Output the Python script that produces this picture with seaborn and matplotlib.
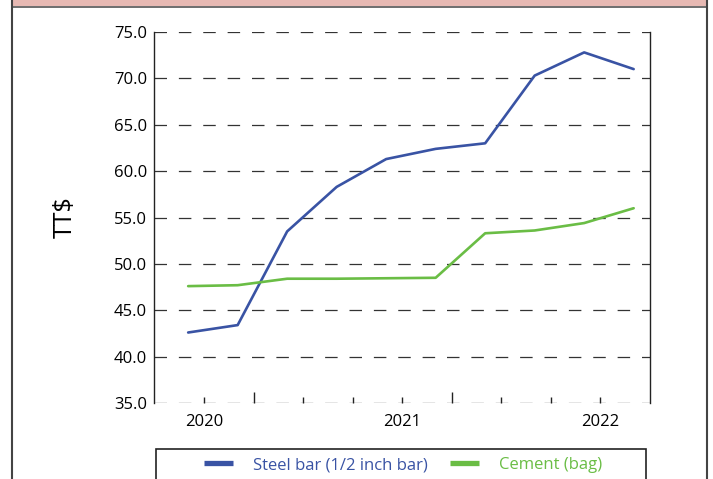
import numpy as np
import pandas as pd
import matplotlib
matplotlib.use("Agg")
import matplotlib.pyplot as plt
import seaborn as sns
from matplotlib.patches import Rectangle
from matplotlib.lines import Line2D

# quarterly prices, TT$
quarters = ["2019Q4", "2020Q1", "2020Q2", "2020Q3", "2020Q4",
            "2021Q1", "2021Q2", "2021Q3", "2021Q4", "2022Q1"]
steel = [42.6, 43.4, 53.5, 58.3, 61.3, 62.4, 63.0, 70.3, 72.8, 71.0]
cement = [47.6, 47.7, 48.4, 48.4, 48.45, 48.5, 53.3, 53.6, 54.4, 56.0]
series_names = ["Steel bar (1/2 inch bar)", "Cement (bag)"]
year_labels = ["2020", "", "", "", "2021", "", "", "", "2022"]

blue = "#3953a4"
green = "#6abd45"

df = pd.DataFrame({
	"pos": list(range(len(quarters))) * 2,
	"price": steel + cement,
	"series": [series_names[0]] * len(steel) + [series_names[1]] * len(cement),
})

sns.set_style("white")
plt.rcParams["font.family"] = ["Open Sans", "DejaVu Sans"]
plt.rcParams["text.color"] = "black"
plt.rcParams["xtick.color"] = "black"
plt.rcParams["ytick.color"] = "black"
plt.rcParams["axes.labelcolor"] = "black"

fig = plt.figure(figsize=(7.13, 4.79), dpi=100)
ax = fig.add_axes([154/713, 1-403/479, 496/713, 371/479])

sns.lineplot(data=df, x="pos", y="price", hue="series", palette=[blue, green],
	linewidth=1.9, ax=ax, legend=False, zorder=3)

ax.set_ylim(35, 75)
ax.set_xlim(-0.69, 9.33)
ax.set_yticks(np.arange(35, 76, 5))
ax.set_yticklabels([f"{v:.1f}" for v in np.arange(35, 76, 5)], fontsize=12)
ax.tick_params(axis="y", length=0, pad=5)

# x ticks: year labels on minor, longer unlabelled major
tick_pos = [k + 0.33 for k in range(9)]
ax.set_xticks([tick_pos[1], tick_pos[5]])
ax.set_xticklabels(["", ""])
ax.set_xticks([p for i, p in enumerate(tick_pos) if i not in (1, 5)], minor=True)
ax.set_xticklabels([l for i, l in enumerate(year_labels) if i not in (1, 5)], minor=True, fontsize=12)
ax.tick_params(axis="x", which="major", direction="in", length=8, width=1, color="#222")
ax.tick_params(axis="x", which="minor", direction="in", length=4, width=1, color="#222", pad=8)
ax.tick_params(axis="x", which="both", bottom=True)

ax.grid(False)
for v in np.arange(35, 76, 5):
	ax.axhline(v, color="#333", linewidth=0.9, dashes=(10, 9.5), zorder=1)

ax.spines["top"].set_visible(False)
ax.spines["bottom"].set_visible(False)
ax.spines["left"].set_linewidth(1)
ax.spines["right"].set_linewidth(1)
ax.spines["left"].set_color("#222")
ax.spines["right"].set_color("#222")

ax.set_xlabel("")
ax.set_ylabel("TT$", fontsize=18)
ax.yaxis.set_label_coords(-0.153, 0.5)

# legend box
fig.patches.append(Rectangle((156/713, -0.05), 490/713, 0.05 + 1-449/479,
	transform=fig.transFigure, fill=False, edgecolor="#222", linewidth=1.2))
handles = [Line2D([0], [0], color=blue, linewidth=3.8, solid_capstyle="butt"),
	Line2D([0], [0], color=green, linewidth=3.8, solid_capstyle="butt")]
leg = fig.legend(handles, series_names, loc="center", bbox_to_anchor=(403/713, 1-465/479),
	ncol=2, frameon=False, fontsize=12, handlelength=1.75, columnspacing=1.3, handletextpad=1.2)
for t, c in zip(leg.get_texts(), [blue, green]):
	t.set_color(c)

# header band and outer frame
fig.patches.append(Rectangle((12/713, 1-6/479), 695/713, 6/479, transform=fig.transFigure,
	facecolor="#e7b9b3", edgecolor="none"))
fig.lines.append(Line2D([12/713, 707/713], [1-6.5/479, 1-6.5/479], transform=fig.transFigure, color="#555", linewidth=1.2))
fig.lines.append(Line2D([12/713, 12/713], [0, 1], transform=fig.transFigure, color="#444", linewidth=1.5))
fig.lines.append(Line2D([707/713, 707/713], [0, 1], transform=fig.transFigure, color="#444", linewidth=1.5))

plt.savefig("out.png", dpi=100)
